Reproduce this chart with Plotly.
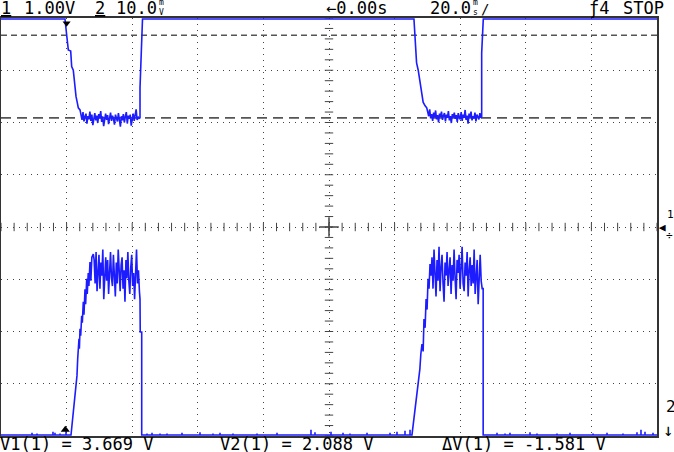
import numpy as np
import plotly.graph_objects as go

# ---------------- data (time in ms, ch1 in V, ch2 in mV) ----------------
t_range = [-20, 180]          # 20 ms/div, 10 div, trigger at 0
ch1_range = [-4, 4]           # 1.00 V/div
ch2_range = [-0.2, 79.8]      # 10.0 mV/div, ground below screen
cursor_v = [3.669, 2.088]
cursor_labels = ["V1(1) = 3.669 V", "V2(1) = 2.088 V", "ΔV(1) = -1.581 V"]
trigger_t = 0.0

# channel 1 (upper trace)
ch1_fall1_t = [-20, -0.49, 0.03, 0.52, 1.25, 1.55, 2.04, 2.26, 2.56, 2.87, 3.26, 3.57, 4.09]
ch1_fall1_v = [3.98, 3.98, 3.67, 3.39, 3.37, 3.07, 3.00, 2.85, 2.69, 2.50, 2.38, 2.28, 2.24]
ch1_noise1_span = [4.4, 22.1]
ch1_noise1_v = [2.14, 2.05, 2.20, 2.02, 2.11, 2.17, 1.98, 2.12, 2.06, 2.21, 2.03, 2.15, 1.95, 2.10,
                2.18, 2.04, 2.13, 1.99, 2.16, 2.08, 2.22, 2.01, 2.12, 1.93, 2.09, 2.17, 2.05, 2.14,
                1.97, 2.11, 2.19, 2.03, 2.13, 2.07, 1.96, 2.15, 2.10, 2.02, 2.18, 2.06, 1.92, 2.12,
                2.04, 2.16, 2.00, 2.11, 2.20, 1.98, 2.13, 2.07, 2.15, 1.94, 2.09, 2.17, 2.03, 2.12,
                2.25, 2.05, 2.11, 2.08]
ch1_rise1_t = [22.38, 22.38, 22.9, 23.14]
ch1_rise1_v = [2.09, 2.66, 3.67, 3.98]
ch1_fall2_t = [105.9, 106.2, 106.4, 106.7, 107.2, 107.7, 108.0, 108.4, 108.7, 109.3, 109.8]
ch1_fall2_v = [3.98, 3.67, 3.45, 3.14, 3.00, 2.81, 2.62, 2.49, 2.39, 2.32, 2.28]
ch1_noise2_span = [110.1, 126.3]
ch1_noise2_v = [2.20, 2.12, 2.25, 2.08, 2.16, 2.03, 2.19, 2.10, 2.23, 2.06, 2.14, 2.00, 2.17, 2.11,
                2.21, 2.05, 2.13, 2.18, 2.02, 2.15, 2.09, 2.22, 2.04, 2.12, 1.99, 2.16, 2.10, 2.19,
                2.07, 2.14, 2.01, 2.18, 2.11, 2.06, 2.20, 2.03, 2.15, 2.09, 2.24, 2.05, 2.13, 1.98,
                2.17, 2.10, 2.21, 2.04, 2.12, 2.08, 2.19, 2.02, 2.15, 2.11, 2.06, 2.18, 2.09]
ch1_rise2_t = [126.55, 126.55, 127.04, 180]
ch1_rise2_v = [2.11, 3.33, 3.98, 3.98]

# channel 2 (lower trace)
ch2_rise1_t = [1.34, 1.74, 2.26, 2.77, 3.17, 3.38, 3.78, 3.9, 4.09, 4.3, 4.60, 4.8, 5.09, 5.3, 5.61,
               5.8, 6.13, 6.3, 6.6, 6.8, 7.13, 7.4, 7.7, 8.14]
ch2_rise1_mv = [0, 2.7, 5.0, 8.8, 11.4, 14.6, 18.4, 16.5, 20.3, 19.0, 22.8, 21.5, 25.5, 23.0, 27.9,
                25.0, 29.9, 27.0, 31.0, 28.5, 33.1, 29.5, 34.0, 34.6]
ch2_noise1_span = [8.4, 22.2]
ch2_noise1_mv = [33.5, 29.0, 35.0, 27.5, 32.5, 34.5, 28.0, 33.0, 30.5, 35.5, 26.0, 31.5, 34.0, 29.5,
                 33.5, 27.0, 32.0, 35.0, 30.0, 28.5, 34.5, 31.0, 26.5, 33.0, 29.0, 35.5, 30.5, 27.5,
                 32.5, 34.0, 28.0, 31.5, 25.5, 33.5, 30.0, 35.0, 29.5, 27.0, 32.0, 34.5, 28.5, 31.0,
                 26.0, 33.0, 35.5, 29.0, 31.5, 27.5]
ch2_fall1_t = [22.38, 22.45, 22.9, 22.9]
ch2_fall1_mv = [26.0, 19.7, 19.7, 0]
ch2_rise2_t = [105.3, 105.9, 106.3, 106.8, 107.2, 107.7, 108.0, 108.35, 108.7, 108.96, 109.3, 109.6,
               109.9, 110.2, 110.5, 110.8]
ch2_rise2_mv = [0, 3.1, 5.5, 7.9, 10.0, 12.6, 15.5, 17.4, 16.0, 22.2, 20.5, 26.0, 24.0, 29.9, 28.0, 32.7]
ch2_noise2_span = [111.1, 126.7]
ch2_noise2_mv = [30.5, 34.0, 28.0, 35.5, 31.0, 26.5, 33.5, 29.5, 36.0, 27.5, 32.0, 34.5, 29.0, 25.5,
                 33.0, 30.5, 35.0, 28.5, 31.5, 34.0, 27.0, 32.5, 29.5, 35.5, 30.0, 26.0, 33.5, 31.0,
                 34.5, 28.0, 32.0, 36.0, 29.0, 27.5, 33.0, 30.5, 35.0, 26.5, 31.5, 34.0, 28.5, 32.5,
                 29.0, 35.5, 27.0, 30.0, 33.5, 25.0, 31.0, 34.5, 29.5, 28.0]
ch2_fall2_t = [127.0, 127.0]
ch2_fall2_mv = [28.0, 0]
ch2_spike_t = [-10.55, -9.02, -4.15, -3.54, -2.01, -0.18, 24.51, 26.04, 28.48, 30.61, 35.18, 40.67,
               44.63, 46.77, 50.73, 58.05, 64.15, 74.51, 75.73, 80.61, 84.27, 86.40, 91.59, 98.60,
               100.73, 103.17, 104.70, 131.22, 133.66, 135.18, 141.28, 143.41, 149.51, 153.48,
               160.49, 164.76, 169.63, 173.90, 175.12, 176.34, 178.78]
ch2_spike_mv = [0.4, 0.3, 0.6, 0.4, 0.3, 0.8, 0.3, 0.4, 0.3, 0.3, 0.4, 0.5, 0.3, 0.4, 0.3, 0.3, 0.4,
                1.0, 0.5, 0.6, 0.4, 0.3, 0.4, 0.4, 0.6, 0.8, 1.0, 0.4, 0.3, 0.4, 0.5, 0.3, 0.3, 0.4,
                0.3, 0.4, 0.3, 0.5, 1.0, 0.6, 0.4]

# trigger indicator levels (top of ch1 area, bottom of ch2 area)
trig_mark_ch1_v = 3.9
trig_mark_ch2_mv = 1.0

# ---------------- build series ----------------
def noise_seg(span, vals):
    return np.linspace(span[0], span[1], len(vals)), np.asarray(vals, float)

n1t, n1v = noise_seg(ch1_noise1_span, ch1_noise1_v)
n2t, n2v = noise_seg(ch1_noise2_span, ch1_noise2_v)
ch1_t = np.concatenate([ch1_fall1_t, n1t, ch1_rise1_t, ch1_fall2_t, n2t, ch1_rise2_t])
ch1_v = np.concatenate([ch1_fall1_v, n1v, ch1_rise1_v, ch1_fall2_v, n2v, ch1_rise2_v])

m1t, m1v = noise_seg(ch2_noise1_span, ch2_noise1_mv)
m2t, m2v = noise_seg(ch2_noise2_span, ch2_noise2_mv)
sp_t = np.repeat(ch2_spike_t, 3)
sp_v = np.column_stack([np.zeros(len(ch2_spike_mv)), ch2_spike_mv, np.zeros(len(ch2_spike_mv))]).ravel()
ch2_t = np.concatenate([[t_range[0]], sp_t, ch2_rise1_t, m1t, ch2_fall1_t, ch2_rise2_t, m2t,
                        ch2_fall2_t, [t_range[1]]])
ch2_v = np.concatenate([[0], sp_v, ch2_rise1_mv, m1v, ch2_fall1_mv, ch2_rise2_mv, m2v,
                        ch2_fall2_mv, [0]])
order = np.argsort(ch2_t, kind="stable")
ch2_t, ch2_v = ch2_t[order], ch2_v[order]

# ---------------- figure ----------------
W, H = 674, 452
L, R, T, B = 1, 17, 18, 16
def px(x):
    return (x - L) / (W - L - R)
def py(y):
    return 1 - (y - T) / (H - T - B)

BLUE = "#1c1cff"
GRID = "#444444"
fig = go.Figure()

# centre-line tick marks
tick_t = np.arange(t_range[0], t_range[1] + 0.01, 4)
tick_v = np.arange(ch1_range[0], ch1_range[1] + 0.01, 0.2)
t_mid = (t_range[0] + t_range[1]) / 2
fig.add_trace(go.Scatter(x=tick_t, y=np.zeros_like(tick_t), mode="markers", hoverinfo="skip",
                         marker=dict(symbol="line-ns-open", size=6, color=GRID,
                                     line=dict(color=GRID, width=1))))
fig.add_trace(go.Scatter(x=np.full_like(tick_v, t_mid), y=tick_v, mode="markers", hoverinfo="skip",
                         marker=dict(symbol="line-ew-open", size=6, color=GRID,
                                     line=dict(color=GRID, width=1))))
fig.add_trace(go.Scatter(x=[t_mid], y=[0], mode="markers", hoverinfo="skip",
                         marker=dict(symbol="cross-thin-open", size=14, color=GRID,
                                     line=dict(color=GRID, width=1.5))))

fig.add_trace(go.Scatter(x=ch1_t, y=ch1_v, mode="lines", line=dict(color=BLUE, width=1.6),
                         hoverinfo="skip"))
fig.add_trace(go.Scatter(x=ch2_t, y=ch2_v, mode="lines", line=dict(color=BLUE, width=1.6),
                         yaxis="y2", hoverinfo="skip"))

# trigger indicators
fig.add_trace(go.Scatter(x=[trigger_t], y=[trig_mark_ch1_v], mode="markers", hoverinfo="skip",
                         marker=dict(symbol="triangle-down", size=7, color="black")))
fig.add_trace(go.Scatter(x=[trigger_t - 0.4], y=[trig_mark_ch2_mv], mode="markers", yaxis="y2",
                         hoverinfo="skip", cliponaxis=False,
                         marker=dict(symbol="triangle-up", size=8, color="black")))

for v, dash in zip(cursor_v, ["6px,4px", "10px,6px"]):
    fig.add_shape(type="line", xref="paper", x0=0, x1=1, yref="y", y0=v, y1=v,
                  line=dict(color="#555555", width=1.6, dash=dash), layer="below")

axis_common = dict(showticklabels=False, ticks="", zeroline=False, showgrid=True,
                   gridcolor=GRID, gridwidth=1, griddash="1px,5px", showline=True, mirror=True,
                   linecolor="#333333", linewidth=2, layer="below traces")
fig.update_layout(
    width=W, height=H, margin=dict(l=L, r=R, t=T, b=B),
    paper_bgcolor="white", plot_bgcolor="white", showlegend=False,
    xaxis=dict(range=t_range, dtick=20, tick0=0, **axis_common),
    yaxis=dict(range=ch1_range, dtick=1, tick0=0, **axis_common),
    yaxis2=dict(range=ch2_range, overlaying="y", visible=False),
    font=dict(family="DejaVu Sans Mono", color="black"),
)

FS = 17
def label(text, x, y, size=FS, anchor="left"):
    fig.add_annotation(text=text, xref="paper", yref="paper", x=px(x), y=py(y), xanchor=anchor,
                       yanchor="middle", showarrow=False, font=dict(size=size, color="black"),
                       borderpad=0)

# header
label("<u>1</u>", 0, 8)
label("1.00V", 23, 8)
label("<u>2</u>", 94, 8)
label("10.0", 115, 8)
label("m<br>V", 158, 8, size=8)
label("←0.00s", 325, 8)
label("20.0", 429, 8)
label("m<br>s", 472, 8, size=8)
label("/", 480, 9, size=14)
label("ƒ4", 588, 8)
label("STOP", 622, 8)

# footer
label(cursor_labels[0], -1, 444)
label(cursor_labels[1], 219, 444)
label(cursor_labels[2], 441, 444)

# right-side channel markers
label("◀", 658, 227, size=11)
label("1", 666, 214, size=11)
label("÷", 665, 236, size=11)
label("2", 665, 406, size=16)
label("↓", 662, 430, size=17)

fig.write_html("out.html", config={"displayModeBar": False},
               post_script="document.body.style.margin='0';document.body.style.overflow='hidden';")
